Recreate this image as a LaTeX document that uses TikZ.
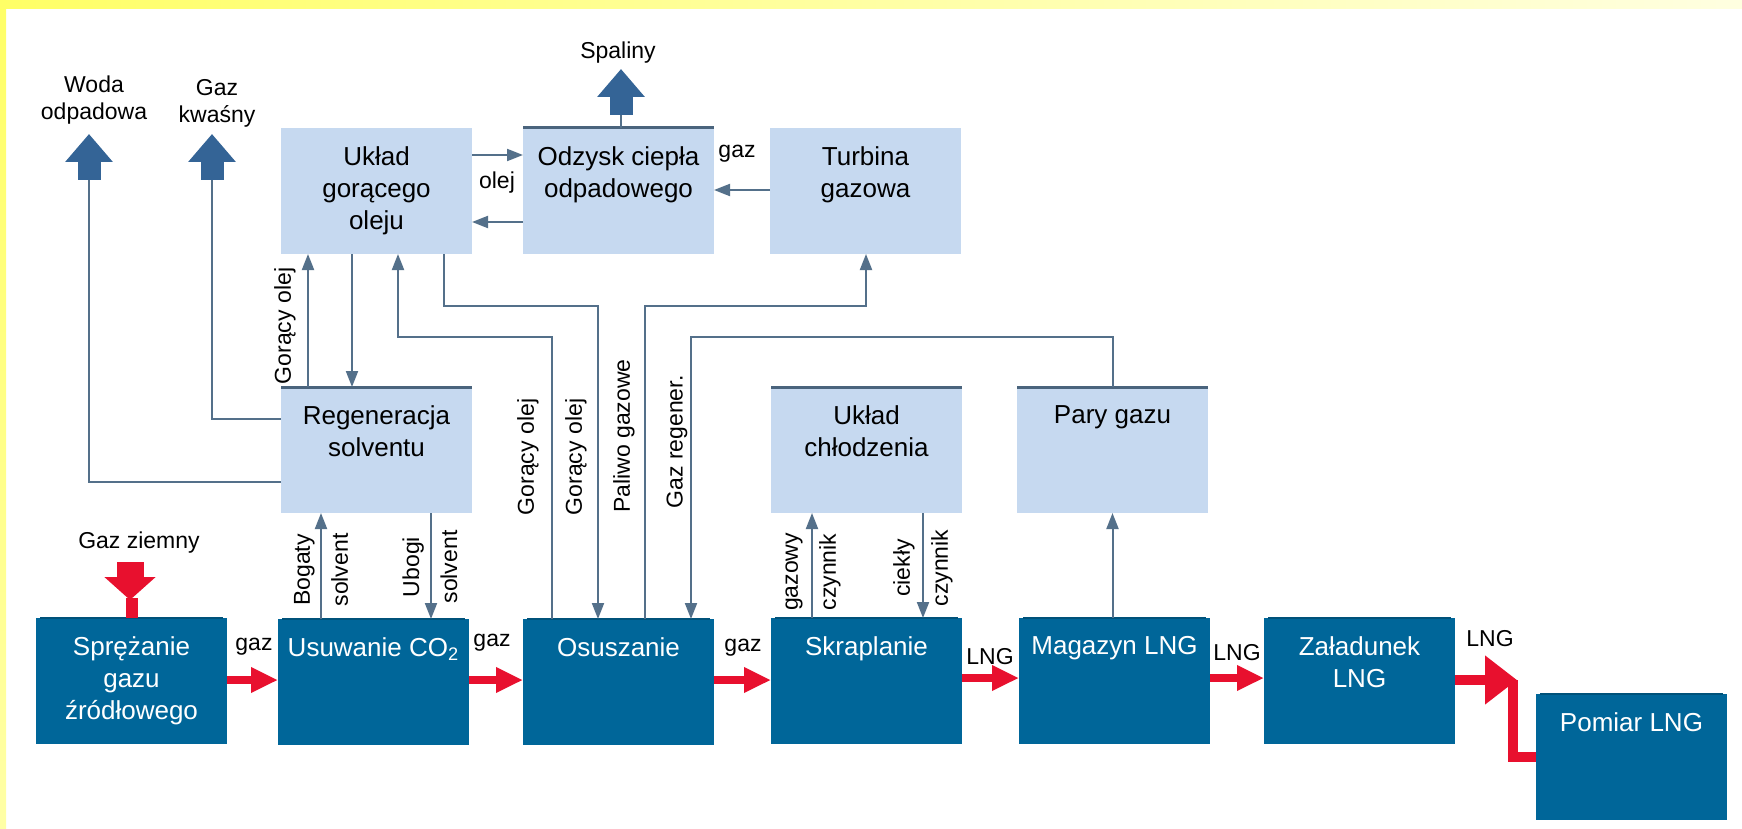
\documentclass[tikz,border=0pt]{standalone}
\usepackage{fontspec}
\setmainfont{Liberation Sans}
\usepackage{xcolor}
\usetikzlibrary{arrows.meta,positioning}

\definecolor{darkbox}{RGB}{0,102,153}
\definecolor{lightbox}{RGB}{198,217,240}
\definecolor{flowline}{RGB}{84,112,138}
\definecolor{bigarrow}{RGB}{52,100,150}
\definecolor{redflow}{RGB}{232,16,46}
\definecolor{topedge}{RGB}{74,100,125}

\tikzset{
  lbox/.style={rectangle, fill=lightbox, minimum width=95.5pt, minimum height=63pt,
    inner sep=0pt, outer sep=0pt, anchor=north west},
  dbox/.style={lbox, fill=darkbox},
  boxtext/.style={anchor=north, yshift=-9pt, inner sep=0pt, align=center,
    font=\fontsize{13}{16}\selectfont},
  lab/.style={inner sep=0pt, align=center, font=\fontsize{11.5}{13.5}\selectfont},
  vlab/.style={lab, rotate=90},
  pairlab/.style={vlab, font=\fontsize{11.5}{19}\selectfont},
  flow/.style={draw=flowline, line width=1pt, -{Triangle[length=8pt,width=6pt]}},
  flowplain/.style={draw=flowline, line width=1pt},
  bigup/.style={draw=bigarrow, line width=11.5pt, -{Triangle[length=14pt,width=23pt]}},
  redarrow/.style={draw=redflow, line width=4.4pt, -{Triangle[length=13.5pt,width=12pt]}},
  redline/.style={draw=redflow, line width=5pt}
}

\begin{document}
\begin{tikzpicture}[x=0.5pt,y=-0.5pt]
    \useasboundingbox (0,0) rectangle (1742,829);
    \fill[white] (0,0) rectangle (1742,829);
    % yellow frame
    \shade[left color=yellow!60!white, right color=yellow!12!white] (0,0) rectangle (1742,9);
    \shade[top color=yellow!60!white, bottom color=yellow!35!white] (0,0) rectangle (6,829);

    % upper units
    \node[lbox] (ukl) at (281,128) {};
    \node[lbox] (odz) at (523,128) {};
    \node[lbox] (tur) at (770,128) {};
    \node[lbox] (reg) at (281,387) {};
    \node[lbox] (chl) at (771,387) {};
    \node[lbox] (par) at (1017,387) {};
    % main line
    \node[dbox] (spr) at (36,618) {};
    \node[dbox] (usu) at (278,619) {};
    \node[dbox] (osu) at (523,619) {};
    \node[dbox] (skr) at (771,618) {};
    \node[dbox] (mag) at (1019,618) {};
    \node[dbox] (zal) at (1264,618) {};
    \node[dbox] (pom) at (1536,694) {};

    \foreach \b in {odz,reg,chl,par}
        \draw[topedge, line width=1.5pt] (\b.north west) -- (\b.north east);
    \foreach \b in {spr,usu,osu,skr,mag,zal,pom}
        \draw[darkbox!80!black, line width=1pt] ([xshift=2pt]\b.north west) -- ([xshift=-2pt]\b.north east);

    % box texts
    \node[boxtext] (ukl-t) at (ukl.north) {Układ\\gorącego\\oleju};
    \node[boxtext] (odz-t) at (odz.north) {Odzysk ciepła\\odpadowego};
    \node[boxtext] (tur-t) at (tur.north) {Turbina\\gazowa};
    \node[boxtext] (reg-t) at (reg.north) {Regeneracja\\solventu};
    \node[boxtext] (chl-t) at (chl.north) {Układ\\chłodzenia};
    \node[boxtext] (par-t) at (par.north) {Pary gazu};
    \node[boxtext, text=white] (spr-t) at (spr.north) {Sprężanie\\gazu\\źródłowego};
    \node[boxtext, text=white] (usu-t) at (usu.north) {Usuwanie CO\textsubscript{2}};
    \node[boxtext, text=white] (osu-t) at (osu.north) {Osuszanie};
    \node[boxtext, text=white] (skr-t) at (skr.north) {Skraplanie};
    \node[boxtext, text=white] (mag-t) at (mag.north) {Magazyn LNG};
    \node[boxtext, text=white] (zal-t) at (zal.north) {Załadunek\\LNG};
    \node[boxtext, text=white] (pom-t) at (pom.north) {Pomiar LNG};

    % outlets
    \node[lab] (l-woda) at (94,100) {Woda\\odpadowa};
    \node[lab] (l-kw) at (217,103) {Gaz\\kwaśny};
    \node[lab] (l-spal) at (618,53) {Spaliny};
    \coordinate (wo) at (89,180);
    \coordinate (kw) at (212,180);
    \coordinate (sp) at (621,115);
    \draw[flowplain] (reg.west |- 0,482) -| (wo);
    \draw[flowplain] (reg.west |- 0,419) -| (kw);
    \draw[flowplain] (odz.north -| sp) -- (sp);
    \draw[bigup] (wo) -- (89,134);
    \draw[bigup] (kw) -- (212,134);
    \draw[bigup] (sp) -- (621,69);

    % hot oil loop
    \draw[flow] (ukl.east |- 0,155) -- (odz.west |- 0,155);
    \draw[flow] (odz.west |- 0,222) -- (ukl.east |- 0,222);
    \node[lab] (l-olej) at (497,183) {olej};
    \draw[flow] (tur.west |- 0,190) -- (odz.east |- 0,190);
    \node[lab] (l-gaz0) at (737,154) {gaz};
    \draw[flow] (reg.north -| 308,0) -- (ukl.south -| 308,0);
    \draw[flow] (ukl.south -| 352,0) -- (reg.north -| 352,0);
    \node[vlab] (l-go1) at (285,326) {Gorący olej};

    % lines to Osuszanie
    \draw[flow] (osu.north -| 552,0) |- (398,337) -- (ukl.south -| 398,0);
    \draw[flow] (ukl.south -| 444,0) |- (598,306) -- (osu.north -| 598,0);
    \draw[flow] (osu.north -| 645,0) |- (866,306) -- (tur.south -| 866,0);
    \draw[flow] (par.north) |- (691,337) -- (osu.north -| 691,0);
    \node[vlab] (l-go2) at (528,457) {Gorący olej};
    \node[vlab] (l-go3) at (576,457) {Gorący olej};
    \node[vlab] (l-pal) at (624,436) {Paliwo gazowe};
    \node[vlab] (l-reg) at (677,442) {Gaz regener.};

    % solvent and refrigerant
    \draw[flow] (usu.north -| 321,0) -- (reg.south -| 321,0);
    \draw[flow] (reg.south -| 431,0) -- (usu.north -| 431,0);
    \draw[flow] (skr.north -| 812,0) -- (chl.south -| 812,0);
    \draw[flow] (chl.south -| 923,0) -- (skr.north -| 923,0);
    \draw[flow] (par.south |- mag.north) -- (par.south);
    \node[pairlab] (l-bog) at (321,570) {Bogaty\\solvent};
    \node[pairlab] (l-ubo) at (430,567) {Ubogi\\solvent};
    \node[pairlab] (l-gzw) at (813,572) {gazowy\\czynnik};
    \node[pairlab] (l-cie) at (923,568) {ciekły\\czynnik};

    % natural gas feed
    \node[lab] (l-gz) at (139,543) {Gaz ziemny};
    \draw[redline, line width=6pt] (spr.north |- 0,598) -- (spr.north);
    \draw[draw=redflow, line width=13.5pt, -{Triangle[length=11.5pt,width=25pt]}] (130,562) -- (130,600);

    % main LNG line
    \draw[redarrow] (spr.east |- 0,680) -- (usu.west |- 0,680);
    \draw[redarrow] (usu.east |- 0,680) -- (osu.west |- 0,680);
    \draw[redarrow] (osu.east |- 0,680) -- (skr.west |- 0,680);
    \draw[redarrow] (skr.east |- 0,678) -- (mag.west |- 0,678);
    \draw[redarrow] (mag.east |- 0,678) -- (zal.west |- 0,678);
    \coordinate (bend) at (1517,680);
    \draw[redline] (1512.5,680) |- (pom.west |- 0,757);
    \draw[redline, -{Triangle[length=16pt,width=23.5pt]}] (zal.east |- bend) -- (bend);
    \node[lab] (l-g1) at (254,647) {gaz};
    \node[lab] (l-g2) at (492,643) {gaz};
    \node[lab] (l-g3) at (743,648) {gaz};
    \node[lab] (l-n1) at (990,657) {LNG};
    \node[lab] (l-n2) at (1237,653) {LNG};
    \node[lab] (l-n3) at (1490,639) {LNG};
\end{tikzpicture}
\end{document}
